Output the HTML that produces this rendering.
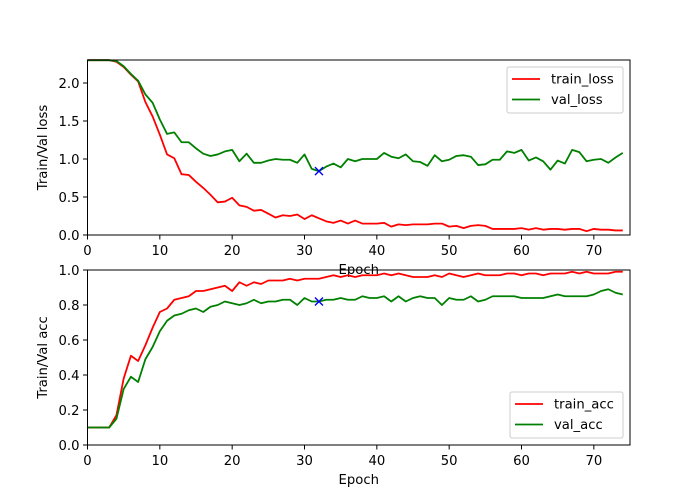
<!DOCTYPE html>
<html><head><meta charset="utf-8"><style>
html,body{margin:0;padding:0;background:#fff;}
svg{display:block;font-family:"DejaVu Sans","Liberation Sans",sans-serif;}
</style></head><body>
<svg id="chart" width="700" height="500" viewBox="0 0 700 500" xmlns="http://www.w3.org/2000/svg"></svg>
<script>
const epochs = Array.from({length:75},(_,i)=>i);
const trainLoss = [2.30,2.30,2.30,2.30,2.28,2.21,2.11,2.02,1.75,1.56,1.32,1.06,1.01,0.80,0.79,0.70,0.62,0.53,0.43,0.44,0.49,0.39,0.37,0.32,0.33,0.28,0.23,0.26,0.25,0.27,0.21,0.26,0.22,0.18,0.16,0.19,0.15,0.19,0.15,
0.15,0.15,0.16,0.11,0.14,0.13,0.14,0.14,0.14,0.15,0.15,0.11,0.12,0.09,0.12,0.13,0.12,0.08,0.08,0.08,0.08,0.09,0.07,0.09,0.07,0.08,0.08,0.07,0.08,0.08,0.05,0.08,0.07,0.07,0.06,0.06];
const valLoss = [2.30,2.30,2.30,2.30,2.29,2.22,2.12,2.03,1.85,1.74,1.52,1.33,1.35,1.22,1.22,1.14,1.07,1.04,1.06,1.10,1.12,0.97,1.07,0.95,0.95,0.98,1.00,0.99,0.99,0.95,1.06,0.87,0.84,0.90,0.94,0.89,1.00,0.97,1.00,
1.00,1.00,1.08,1.03,1.01,1.06,0.97,0.96,0.91,1.05,0.97,0.99,1.04,1.05,1.03,0.92,0.93,0.99,0.99,1.10,1.08,1.12,0.98,1.02,0.97,0.86,0.98,0.94,1.12,1.09,0.97,0.99,1.00,0.95,1.02,1.08];
const trainAcc = [0.10,0.10,0.10,0.10,0.17,0.38,0.51,0.48,0.57,0.67,0.76,0.78,0.83,0.84,0.85,0.88,0.88,0.89,0.90,0.91,0.88,0.93,0.91,0.93,0.92,0.94,0.94,0.94,0.95,0.94,0.95,0.95,0.95,0.96,0.97,0.96,0.97,0.96,0.97,
0.97,0.97,0.98,0.97,0.98,0.97,0.96,0.96,0.96,0.97,0.96,0.98,0.97,0.96,0.97,0.98,0.97,0.97,0.97,0.98,0.98,0.97,0.98,0.98,0.97,0.98,0.98,0.98,0.99,0.98,0.99,0.98,0.98,0.98,0.99,0.99];
const valAcc = [0.10,0.10,0.10,0.10,0.15,0.32,0.39,0.36,0.49,0.56,0.65,0.71,0.74,0.75,0.77,0.78,0.76,0.79,0.80,0.82,0.81,0.80,0.81,0.83,0.81,0.82,0.82,0.83,0.83,0.80,0.84,0.82,0.82,0.83,0.83,0.84,0.83,0.83,0.85,
0.84,0.84,0.85,0.82,0.85,0.82,0.84,0.85,0.84,0.84,0.80,0.84,0.83,0.83,0.85,0.82,0.83,0.85,0.85,0.85,0.85,0.84,0.84,0.84,0.84,0.85,0.86,0.85,0.85,0.85,0.85,0.86,0.88,0.89,0.87,0.86,0.84].slice(0,75);
const bestEpoch = [32];
const bestLoss = [0.84];
const bestAcc = [0.82];
const xTicks = [0,10,20,30,40,50,60,70];
const lossTicks = [0.0,0.5,1.0,1.5,2.0];
const accTicks = [0.0,0.2,0.4,0.6,0.8,1.0];

const NS='http://www.w3.org/2000/svg';
const svg=document.getElementById('chart');
function mk(tag,attrs,parent){const e=document.createElementNS(NS,tag);for(const k in attrs)e.setAttribute(k,attrs[k]);(parent||svg).appendChild(e);return e;}
const L=87.5,R=630,XMAX=75,FS=13.2;
function xs(v){return L+(R-L)*v/XMAX;}

function panel(top,bot,ymax,ticks,series,mark,ylabel,legend,name){
  const g=mk('g',{});
  
  
  const ys=v=>bot-(bot-top)*v/ymax;
  series.forEach(s=>{
    const d=s.vals.map((v,i)=>(i?'L':'M')+xs(epochs[i]).toFixed(2)+','+ys(v).toFixed(2)).join('');
    const p=mk('path',{d:d,fill:'none',stroke:s.color,'stroke-width':1.8,'stroke-linejoin':'round'},g);
    
    
  });
  const mx=xs(bestEpoch[0]),my=ys(mark[0]);
  const m=mk('path',{d:`M${mx-4},${my-4}L${mx+4},${my+4}M${mx-4},${my+4}L${mx+4},${my-4}`,stroke:'#0000ff','stroke-width':1.4},g);
  
  
  const fr=mk('rect',{x:L,y:top,width:R-L,height:bot-top,fill:'none',stroke:'#000','stroke-width':1},g);
  
  
  xTicks.forEach(t=>{
    mk('line',{x1:xs(t),x2:xs(t),y1:bot,y2:bot+4.5,stroke:'#000','stroke-width':1},g);
    const tx=mk('text',{x:xs(t),y:bot+20,'font-size':FS,'text-anchor':'middle'},g);tx.textContent=t;
    
    
  });
  ticks.forEach(t=>{
    mk('line',{x1:L-4.5,x2:L,y1:ys(t),y2:ys(t),stroke:'#000','stroke-width':1},g);
    const tx=mk('text',{x:L-8,y:ys(t)+4.8,'font-size':FS,'text-anchor':'end'},g);tx.textContent=t.toFixed(1);
    
    
  });
  const xl=mk('text',{x:(L+R)/2,y:bot+39,'font-size':FS,'text-anchor':'middle'},g);xl.textContent='Epoch';
  
  
  const yl=mk('text',{x:0,y:0,'font-size':FS,'text-anchor':'middle',transform:`translate(47,${(top+bot)/2}) rotate(-90)`},g);yl.textContent=ylabel;
  
  
  const lg=mk('g',{},g);
  
  
  mk('rect',{x:legend.x,y:legend.y,width:legend.w,height:46,rx:2,fill:'#fff','fill-opacity':0.8,stroke:'#ccc','stroke-width':1},lg);
  series.forEach((s,i)=>{
    const ly=legend.y+12+i*20.5;
    mk('line',{x1:legend.x+5,x2:legend.x+33,y1:ly,y2:ly,stroke:s.color,'stroke-width':1.8},lg);
    const t=mk('text',{x:legend.x+44,y:ly+4.5,'font-size':FS},lg);t.textContent=s.name;
    
    
  });
}
panel(60,235,2.3026,lossTicks,[{name:'train_loss',vals:trainLoss,color:'#ff0000'},{name:'val_loss',vals:valLoss,color:'#008000'}],bestLoss,'Train/Val loss',{x:507,y:67,w:116},'loss-panel');
panel(270,445,1.0,accTicks,[{name:'train_acc',vals:trainAcc,color:'#ff0000'},{name:'val_acc',vals:valAcc,color:'#008000'}],bestAcc,'Train/Val acc',{x:510,y:392,w:113},'acc-panel');
</script>
</body></html>
